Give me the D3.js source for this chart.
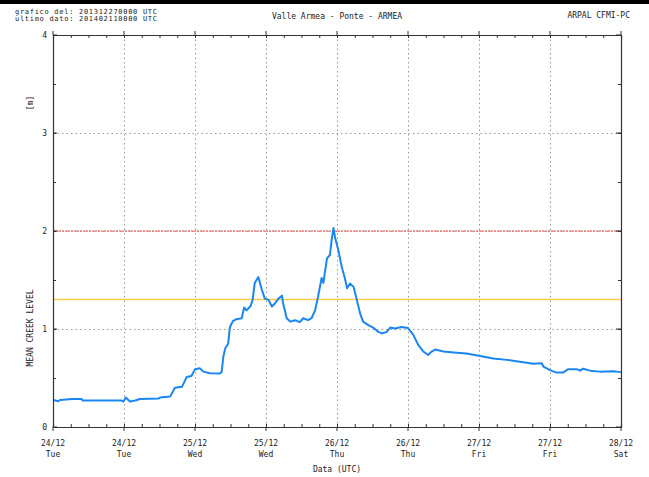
<!DOCTYPE html>
<html><head><meta charset="utf-8">
<script src="https://cdn.jsdelivr.net/npm/d3@7"></script>
<style>
body{margin:0;background:#fff;}
svg text{font-family:"DejaVu Sans Mono",monospace;font-size:8px;fill:#222;}
</style></head>
<body><svg id="c" width="649" height="477"></svg>
<script>
// hours since 24/12/2013 00:00 UTC
const hours = [0.05,0.9,1.2,3.2,4.85,5.0,11.6,11.9,12.3,13.0,13.9,14.7,17.8,18.1,19.8,20.6,21.8,22.6,23.4,24.0,24.8,25.4,26.5,28.2,28.5,28.8,29.1,29.6,29.9,30.4,31.0,31.9,32.3,32.7,33.4,33.75,34.1,34.7,35.3,35.8,36.4,37.0,37.5,38.1,38.7,38.9,39.5,40.1,40.9,41.7,42.3,43.1,43.7,44.3,44.8,45.4,45.7,46.3,46.8,47.1,47.4,47.7,48.2,48.8,49.4,49.7,50.2,50.8,51.3,51.9,52.4,53.3,54.1,55.0,55.6,56.4,57.0,57.8,58.9,60.0,60.9,61.7,62.6,63.4,64.0,64.6,66.0,67.7,69.9,72.2,74.4,76.7,78.9,81.2,82.6,82.9,84.0,85.1,86.2,87.1,88.5,89.1,89.6,90.8,92.4,94.7,96];
const levels = [0.276,0.262,0.276,0.286,0.286,0.27,0.27,0.26,0.30,0.26,0.27,0.285,0.29,0.30,0.31,0.40,0.41,0.51,0.52,0.59,0.60,0.565,0.548,0.545,0.56,0.72,0.80,0.85,1.02,1.08,1.10,1.11,1.22,1.19,1.235,1.30,1.47,1.53,1.40,1.31,1.30,1.23,1.26,1.31,1.34,1.26,1.11,1.075,1.09,1.07,1.11,1.09,1.11,1.19,1.33,1.52,1.47,1.72,1.755,1.91,2.03,1.925,1.81,1.635,1.50,1.415,1.465,1.43,1.31,1.16,1.075,1.04,1.015,0.97,0.955,0.97,1.015,1.005,1.02,1.01,0.94,0.84,0.77,0.735,0.77,0.79,0.77,0.76,0.75,0.725,0.70,0.685,0.665,0.645,0.65,0.615,0.58,0.555,0.555,0.59,0.59,0.575,0.595,0.575,0.565,0.57,0.56];
const xTickHours = [0,12,24,36,48,60,72,84,96];
const xTickDates = ["24/12","24/12","25/12","25/12","26/12","26/12","27/12","27/12","28/12"];
const xTickDays = ["Tue","Tue","Wed","Wed","Thu","Thu","Fri","Fri","Sat"];
const yTicks = [0,1,2,3,4];
const alarmLevel = 2.0;
const warnLevel = 1.3;

const svg = d3.select("#c");
const L=53,R=621,T=35,B=427;
const x = d3.scaleLinear().domain([0,96]).range([L,R]);
const y = d3.scaleLinear().domain([0,4]).range([B,T]);

// top black bar
svg.append("rect").attr("x",0).attr("y",0).attr("width",649).attr("height",4).attr("fill","#000");

// header texts
svg.append("text").attr("x",15).attr("y",14).style("font-size","7px")
  .attr("textLength",142).attr("lengthAdjust","spacing").text("grafico del: 201312270000 UTC");
svg.append("text").attr("x",15).attr("y",21).style("font-size","7px")
  .attr("textLength",142).attr("lengthAdjust","spacing").text("ultimo dato: 201402110000 UTC");
svg.append("text").attr("x",337).attr("y",19).attr("text-anchor","middle").text("Valle Armea - Ponte - ARMEA");
svg.append("text").attr("x",630).attr("y",18).attr("text-anchor","end").text("ARPAL CFMI-PC");

// grid
const grid = svg.append("g").attr("stroke","#999").attr("stroke-width",1).attr("stroke-dasharray","1.5,3");
grid.selectAll("line.v").data(xTickHours.slice(1,-1)).join("line")
  .attr("x1",d=>Math.round(x(d))+0.5).attr("x2",d=>Math.round(x(d))+0.5).attr("y1",T).attr("y2",B);
grid.selectAll("line.h").data(yTicks.slice(1,-1)).join("line")
  .attr("y1",d=>Math.round(y(d))+0.5).attr("y2",d=>Math.round(y(d))+0.5).attr("x1",L).attr("x2",R);

// threshold lines
svg.append("line").attr("x1",L).attr("x2",R).attr("y1",y(alarmLevel)).attr("y2",y(alarmLevel))
  .attr("stroke","#f07a7a").attr("stroke-width",1.3).attr("stroke-dasharray","2,1");
svg.append("line").attr("x1",L).attr("x2",R).attr("y1",y(warnLevel)).attr("y2",y(warnLevel))
  .attr("stroke","#ffc94d").attr("stroke-width",1.5);

// data line
const data = hours.map((h,i)=>({h, v: levels[i]}));
svg.append("path").datum(data)
  .attr("fill","none").attr("stroke","#1a86f0").attr("stroke-width",2).attr("stroke-linejoin","round")
  .attr("d", d3.line().x(d=>x(d.h)).y(d=>y(d.v)));

// axes
const axCol="#333";
const xb = svg.append("g").attr("transform",`translate(0,${B})`)
  .call(d3.axisBottom(x).tickValues(d3.range(0,97,3)).tickSize(-3).tickFormat(""));
const xt = svg.append("g").attr("transform",`translate(0,${T})`)
  .call(d3.axisTop(x).tickValues(d3.range(0,97,3)).tickSize(-3).tickFormat(""));
const yl = svg.append("g").attr("transform",`translate(${L},0)`)
  .call(d3.axisLeft(y).tickValues(d3.range(0,4.01,0.5)).tickSize(-3).tickFormat(""));
const yr = svg.append("g").attr("transform",`translate(${R},0)`)
  .call(d3.axisRight(y).tickValues(d3.range(0,4.01,0.5)).tickSize(-3).tickFormat(""));
[xb,xt,yl,yr].forEach(g=>{g.select(".domain").attr("stroke",axCol).attr("stroke-width",1.2);
  g.selectAll(".tick line").attr("stroke",axCol);});
// major tick marks
svg.append("g").selectAll("line").data(xTickHours).join("line")
  .attr("x1",d=>x(d)).attr("x2",d=>x(d)).attr("y1",B).attr("y2",B+4).attr("stroke",axCol);
svg.append("g").selectAll("line").data(xTickHours).join("line")
  .attr("x1",d=>x(d)).attr("x2",d=>x(d)).attr("y1",T).attr("y2",T-4).attr("stroke",axCol);
svg.append("g").selectAll("line").data(yTicks).join("line")
  .attr("x1",L).attr("x2",L+4).attr("y1",d=>y(d)).attr("y2",d=>y(d)).attr("stroke",axCol);
svg.append("g").selectAll("line").data(yTicks).join("line")
  .attr("x1",R).attr("x2",R-5).attr("y1",d=>y(d)).attr("y2",d=>y(d)).attr("stroke",axCol);

// y labels
svg.append("g").selectAll("text").data(yTicks).join("text")
  .attr("x",47).attr("y",d=>y(d)+3).attr("text-anchor","end").text(d=>d);
// x labels
svg.append("g").selectAll("text").data(xTickHours).join("text")
  .attr("x",d=>x(d)).attr("y",446).attr("text-anchor","middle").text((d,i)=>xTickDates[i]);
svg.append("g").selectAll("text").data(xTickHours).join("text")
  .attr("x",d=>x(d)).attr("y",457).attr("text-anchor","middle").text((d,i)=>xTickDays[i]);

svg.append("text").attr("x",337).attr("y",472).attr("text-anchor","middle").text("Data (UTC)");
svg.append("text").attr("transform","translate(33,103) rotate(-90)").attr("text-anchor","middle").text("[m]");
svg.append("text").attr("transform","translate(33,328) rotate(-90)").attr("text-anchor","middle").text("MEAN CREEK LEVEL");
</script></body></html>
